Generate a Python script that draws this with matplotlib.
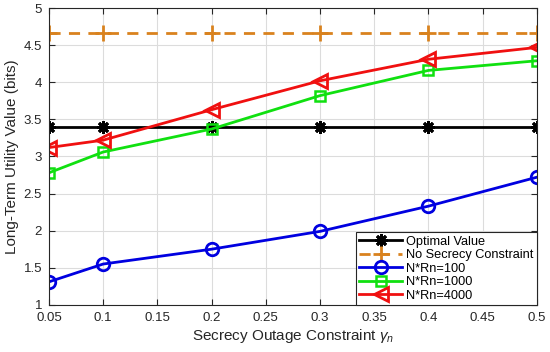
import numpy as np
import matplotlib
matplotlib.use("Agg")
import matplotlib.pyplot as plt

plt.rcParams['font.family'] = ['Liberation Sans', 'DejaVu Sans']
plt.rcParams['mathtext.fontset'] = 'custom'
plt.rcParams['mathtext.it'] = 'Liberation Sans:italic'
plt.rcParams['mathtext.rm'] = 'Liberation Sans'

# data
gamma = [0.05, 0.1, 0.2, 0.3, 0.4, 0.5]
optimal = [3.40, 3.40, 3.40, 3.40, 3.40, 3.40]
no_secrecy = [4.67, 4.67, 4.67, 4.67, 4.67, 4.67]
nrn_100 = [1.31, 1.55, 1.75, 1.99, 2.33, 2.72]
nrn_1000 = [2.78, 3.06, 3.37, 3.82, 4.16, 4.29]
nrn_4000 = [3.12, 3.22, 3.63, 4.02, 4.31, 4.47]

fig = plt.figure(figsize=(5.5, 3.52), dpi=100)
ax = fig.add_axes([0.089, 0.134, 0.887, 0.843])

lw = 2
ax.plot(gamma, optimal, color='black', marker=(8, 2, 0), markersize=9, lw=lw, mew=2, label='Optimal Value')
ax.plot(gamma, no_secrecy, color='#D9821E', ls='--', marker='+', markersize=12, lw=lw, mew=2, dashes=(4, 3), label='No Secrecy Constraint')
ax.plot(gamma, nrn_100, color='#0000E0', marker='o', markersize=9, mfc='none', lw=lw, mew=2, label='N*Rn=100')
ax.plot(gamma, nrn_1000, color='#10E010', marker='s', markersize=7, mfc='none', lw=lw, mew=1.8, label='N*Rn=1000')
ax.plot(gamma, nrn_4000, color='#F01010', marker='<', markersize=10, mfc='none', lw=lw, mew=2, label='N*Rn=4000')

ax.set_xlim(0.05, 0.5)
ax.set_ylim(1, 5)
ax.set_xticks(np.arange(0.05, 0.501, 0.05))
ax.set_xticklabels(['0.05', '0.1', '0.15', '0.2', '0.25', '0.3', '0.35', '0.4', '0.45', '0.5'])
ax.set_yticks(np.arange(1, 5.01, 0.5))
ax.set_yticklabels(['1', '1.5', '2', '2.5', '3', '3.5', '4', '4.5', '5'])
ax.tick_params(direction='in', top=True, right=True, labelsize=9.5, colors='#262626', length=4)
ax.tick_params(axis='x', pad=5)
ax.tick_params(axis='y', pad=5)
ax.grid(True, color='#DCDCDC', lw=0.8)
ax.set_axisbelow(True)
for s in ax.spines.values():
    s.set_color('#262626')
    s.set_linewidth(0.8)

ax.set_xlabel(r'Secrecy Outage Constraint $\gamma_n$', fontsize=11, color='#262626', labelpad=2)
ax.set_ylabel('Long-Term Utility Value (bits)', fontsize=11, color='#262626', labelpad=3)

leg = ax.legend(loc='lower right', fontsize=9.2, fancybox=False, framealpha=1, edgecolor='#262626',
                borderpad=0.25, labelspacing=0.12, handlelength=3.4, handletextpad=0.3, borderaxespad=0)
leg.get_frame().set_linewidth(0.8)

fig.savefig('out.png', dpi=100)
